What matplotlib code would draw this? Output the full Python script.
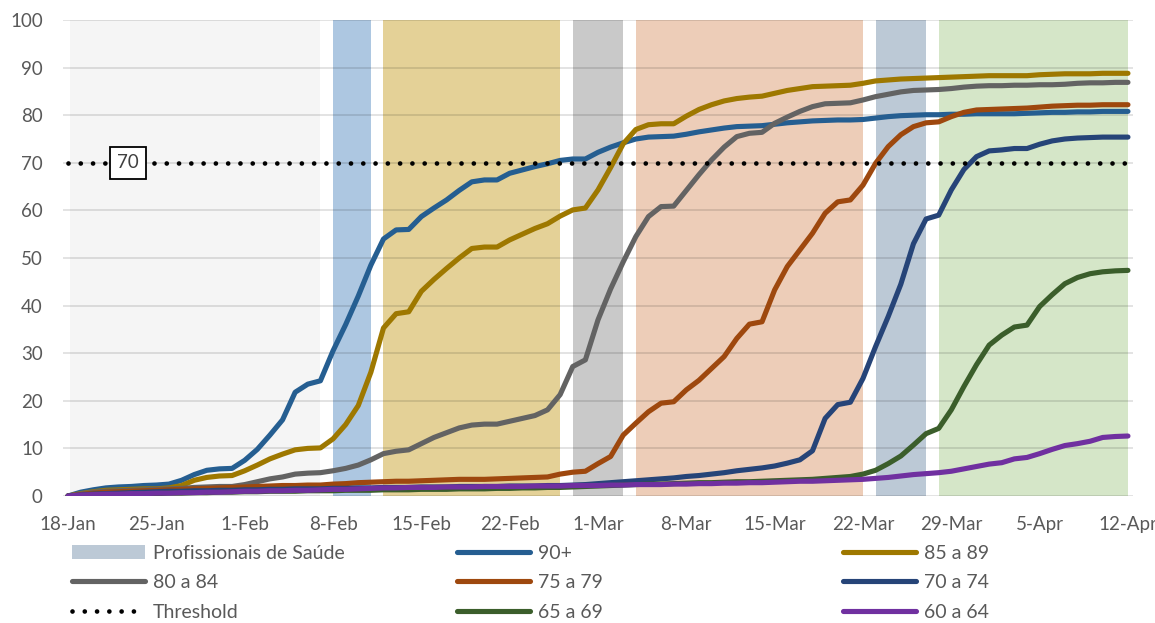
"""Cumulative vaccination coverage by age group, with campaign phases shaded."""
import matplotlib

matplotlib.use("Agg")

import matplotlib.pyplot as plt  # noqa: E402
from matplotlib.patches import Patch  # noqa: E402

plt.rcParams["font.family"] = ["Lato", "DejaVu Sans"]

# --------------------------------------------------------------------------- #
# Data (one value per day, starting 18-Jan)
# --------------------------------------------------------------------------- #
tick_labels = ["18-Jan", "25-Jan", "1-Feb", "8-Feb", "15-Feb", "22-Feb", "1-Mar",
               "8-Mar", "15-Mar", "22-Mar", "29-Mar", "5-Apr", "12-Apr"]

age_90 = [0, 0.8, 1.3, 1.7, 1.9, 2.0, 2.2, 2.3, 2.5, 3.3, 4.5, 5.4, 5.7, 5.8, 7.5,
          9.8, 12.8, 16.0, 21.8, 23.5, 24.2, 30.5, 36.0, 42.0, 48.5, 54.0, 55.9,
          56.0, 58.7, 60.5, 62.2, 64.2, 66.0, 66.4, 66.4, 67.8, 68.5, 69.2, 69.8,
          70.5, 70.8, 70.8, 72.2, 73.3, 74.2, 75.0, 75.4, 75.5, 75.6, 76.0, 76.5,
          76.9, 77.3, 77.6, 77.7, 77.8, 78.1, 78.4, 78.6, 78.8, 78.9, 79.0, 79.0,
          79.1, 79.4, 79.7, 79.9, 80.0, 80.1, 80.1, 80.2, 80.2, 80.3, 80.3, 80.3,
          80.3, 80.4, 80.5, 80.6, 80.6, 80.7, 80.7, 80.8, 80.8, 80.8]
age_85 = [0, 0.5, 0.9, 1.2, 1.3, 1.4, 1.5, 1.5, 1.7, 2.2, 3.3, 3.9, 4.2, 4.3, 5.3,
          6.5, 7.8, 8.8, 9.7, 10.0, 10.1, 12.0, 15.0, 19.0, 26.0, 35.3, 38.3,
          38.7, 43.0, 45.5, 47.8, 50.0, 52.0, 52.3, 52.3, 53.8, 55.0, 56.2, 57.2,
          58.8, 60.1, 60.5, 64.3, 69.0, 74.0, 77.0, 78.0, 78.2, 78.2, 79.8, 81.2,
          82.2, 83.0, 83.5, 83.8, 84.0, 84.6, 85.2, 85.6, 86.0, 86.1, 86.2, 86.3,
          86.7, 87.2, 87.4, 87.6, 87.7, 87.8, 87.9, 88.0, 88.1, 88.2, 88.3, 88.3,
          88.3, 88.3, 88.5, 88.6, 88.7, 88.7, 88.7, 88.8, 88.8, 88.8]
age_80 = [0, 0.4, 0.8, 1.0, 1.1, 1.2, 1.3, 1.4, 1.5, 1.6, 1.8, 1.9, 2.0, 2.0, 2.4,
          3.0, 3.6, 4.0, 4.6, 4.8, 4.9, 5.3, 5.8, 6.5, 7.6, 8.9, 9.4, 9.7, 11.0,
          12.3, 13.3, 14.3, 14.9, 15.1, 15.1, 15.7, 16.3, 16.9, 18.1, 21.3, 27.2,
          28.6, 37.0, 43.5, 49.2, 54.5, 58.7, 60.8, 60.9, 64.2, 67.5, 70.6, 73.3,
          75.5, 76.2, 76.4, 78.3, 79.6, 80.8, 81.8, 82.4, 82.5, 82.6, 83.2, 83.9,
          84.4, 84.9, 85.2, 85.3, 85.4, 85.6, 85.9, 86.1, 86.2, 86.2, 86.3, 86.3,
          86.4, 86.4, 86.5, 86.7, 86.8, 86.8, 86.9, 86.9]
age_75 = [0, 0.3, 0.6, 0.8, 0.9, 1.0, 1.1, 1.2, 1.3, 1.4, 1.5, 1.6, 1.7, 1.8, 1.9,
          2.0, 2.1, 2.2, 2.2, 2.3, 2.3, 2.5, 2.6, 2.8, 2.9, 3.0, 3.1, 3.1, 3.2,
          3.3, 3.4, 3.5, 3.5, 3.5, 3.6, 3.7, 3.8, 3.9, 4.0, 4.6, 5.0, 5.2, 6.8,
          8.3, 12.8, 15.3, 17.7, 19.5, 19.8, 22.3, 24.3, 26.8, 29.3, 33.1, 36.1,
          36.6, 43.3, 48.2, 51.7, 55.2, 59.4, 61.8, 62.2, 65.3, 69.9, 73.4, 75.9,
          77.6, 78.4, 78.6, 79.7, 80.6, 81.1, 81.2, 81.3, 81.4, 81.5, 81.7, 81.9,
          82.0, 82.1, 82.1, 82.2, 82.2, 82.2]
age_70 = [0, 0.2, 0.4, 0.5, 0.6, 0.7, 0.8, 0.9, 1.0, 1.0, 1.1, 1.1, 1.2, 1.2, 1.3,
          1.3, 1.4, 1.4, 1.5, 1.5, 1.5, 1.6, 1.6, 1.7, 1.7, 1.8, 1.8, 1.8, 1.9,
          1.9, 1.9, 2.0, 2.0, 2.0, 2.0, 2.1, 2.1, 2.1, 2.2, 2.2, 2.3, 2.4, 2.6,
          2.8, 3.0, 3.2, 3.4, 3.6, 3.8, 4.1, 4.3, 4.6, 4.9, 5.3, 5.6, 5.9, 6.3,
          6.9, 7.6, 9.5, 16.3, 19.2, 19.7, 24.7, 31.4, 37.7, 44.5, 53.0, 58.2,
          59.0, 64.3, 68.6, 71.3, 72.5, 72.7, 73.0, 73.0, 73.9, 74.6, 75.0, 75.2,
          75.3, 75.4, 75.4, 75.4]
age_65 = [0, 0.1, 0.2, 0.3, 0.3, 0.4, 0.5, 0.5, 0.6, 0.6, 0.7, 0.7, 0.8, 0.8, 0.9,
          0.9, 1.0, 1.0, 1.0, 1.1, 1.1, 1.1, 1.2, 1.2, 1.2, 1.3, 1.3, 1.3, 1.4,
          1.4, 1.4, 1.5, 1.5, 1.5, 1.6, 1.6, 1.7, 1.7, 1.8, 1.8, 1.9, 2.0, 2.1,
          2.2, 2.3, 2.4, 2.5, 2.5, 2.6, 2.7, 2.8, 2.8, 2.9, 3.0, 3.0, 3.1, 3.2,
          3.3, 3.4, 3.5, 3.7, 3.9, 4.1, 4.6, 5.4, 6.8, 8.4, 10.7, 13.1, 14.2,
          18.1, 23.0, 27.6, 31.7, 33.8, 35.5, 35.9, 39.8, 42.3, 44.6, 45.9, 46.7,
          47.1, 47.3, 47.4]
age_60 = [0, 0.2, 0.3, 0.4, 0.4, 0.5, 0.5, 0.6, 0.6, 0.7, 0.7, 0.8, 0.8, 0.9, 1.0,
          1.0, 1.1, 1.1, 1.2, 1.2, 1.3, 1.4, 1.4, 1.5, 1.6, 1.7, 1.7, 1.8, 1.8,
          1.8, 1.9, 1.9, 1.9, 2.0, 2.0, 2.0, 2.0, 2.1, 2.1, 2.1, 2.2, 2.2, 2.2,
          2.3, 2.3, 2.4, 2.4, 2.4, 2.5, 2.5, 2.6, 2.6, 2.7, 2.7, 2.8, 2.8, 2.9,
          3.0, 3.1, 3.1, 3.2, 3.3, 3.4, 3.5, 3.7, 3.9, 4.2, 4.5, 4.7, 4.9, 5.2,
          5.7, 6.2, 6.7, 7.0, 7.8, 8.1, 8.9, 9.8, 10.6, 11.0, 11.5, 12.3, 12.5,
          12.6]
threshold = 70

series_labels = ["90+", "85 a 89", "80 a 84", "75 a 79", "70 a 74", "65 a 69", "60 a 64"]
series_colors = ["#255e91", "#9e7800", "#636363", "#9e480e", "#264478", "#3b5e2b", "#7030a0"]

# campaign phases, as day offsets from 18-Jan
phase_start = [0.15, 21, 25, 40, 45, 64, 69]
phase_end = [20, 24, 39, 44, 63, 68, 84]
phase_colors = ["#f5f5f5", "#adc7e1", "#e4d197", "#c9c9c9", "#edcdb8", "#bcc9d6", "#d5e6c8"]

# --------------------------------------------------------------------------- #
# Figure
# --------------------------------------------------------------------------- #
days = list(range(len(age_90)))
text_color = "#595959"

fig = plt.figure(figsize=(11.55, 6.23), dpi=100)
ax = fig.add_axes([63 / 1155, 1 - 496 / 623, 1070 / 1155, 476 / 623])

for start, end, colour in zip(phase_start, phase_end, phase_colors):
    ax.axvspan(start, end, color=colour, lw=0, zorder=0)

lines = []
all_series = [age_90, age_85, age_80, age_75, age_70, age_65, age_60]
for values, label, colour in zip(all_series, series_labels, series_colors):
    (line,) = ax.plot(days, values, color=colour, lw=3.7, label=label,
                      solid_capstyle="round", solid_joinstyle="round", zorder=3)
    lines.append(line)

(thr_line,) = ax.plot(days, [threshold] * len(days), color="black", lw=3.4,
                      linestyle=(0, (0.001, 2.6)), dash_capstyle="round",
                      label="Threshold", zorder=4)
ax.text(4.75, threshold, str(threshold), ha="center", va="center", fontsize=13.5,
        color="#404040", zorder=5,
        bbox=dict(boxstyle="square,pad=0.4", fc="white", ec="black", lw=1.3))

ax.set_xlim(-0.4, 84.4)
ax.set_ylim(0, 100)
ax.set_xticks(range(0, 85, 7))
ax.set_xticklabels(tick_labels)
ax.set_yticks(range(0, 101, 10))
ax.tick_params(axis="both", length=0, labelsize=13.5, labelcolor=text_color)
ax.tick_params(axis="y", pad=14.5)
ax.tick_params(axis="x", pad=14.5)
ax.grid(axis="y", color="black", alpha=0.13, lw=1.2, zorder=1)
ax.set_axisbelow(False)
for spine in ax.spines.values():
    spine.set_visible(False)

# three separate one-column legends to reproduce the even column spacing
legend_cols = [
    ([Patch(facecolor="#bcc9d6", edgecolor="none"), lines[2], thr_line],
     ["Profissionais de Saúde", "80 a 84", "Threshold"], 72),
    ([lines[0], lines[3], lines[5]], ["90+", "75 a 79", "65 a 69"], 457),
    ([lines[1], lines[4], lines[6]], ["85 a 89", "70 a 74", "60 a 64"], 843),
]
for handles, labels, x_px in legend_cols:
    leg = fig.legend(handles, labels, loc="upper left",
                     bbox_to_anchor=(x_px / 1155, 1 - 545 / 623), frameon=False,
                     fontsize=14, handlelength=3.75, handletextpad=0.4,
                     labelspacing=0.63, borderpad=0, borderaxespad=0)
    for text in leg.get_texts():
        text.set_color(text_color)

fig.savefig("out.png", dpi=100)
